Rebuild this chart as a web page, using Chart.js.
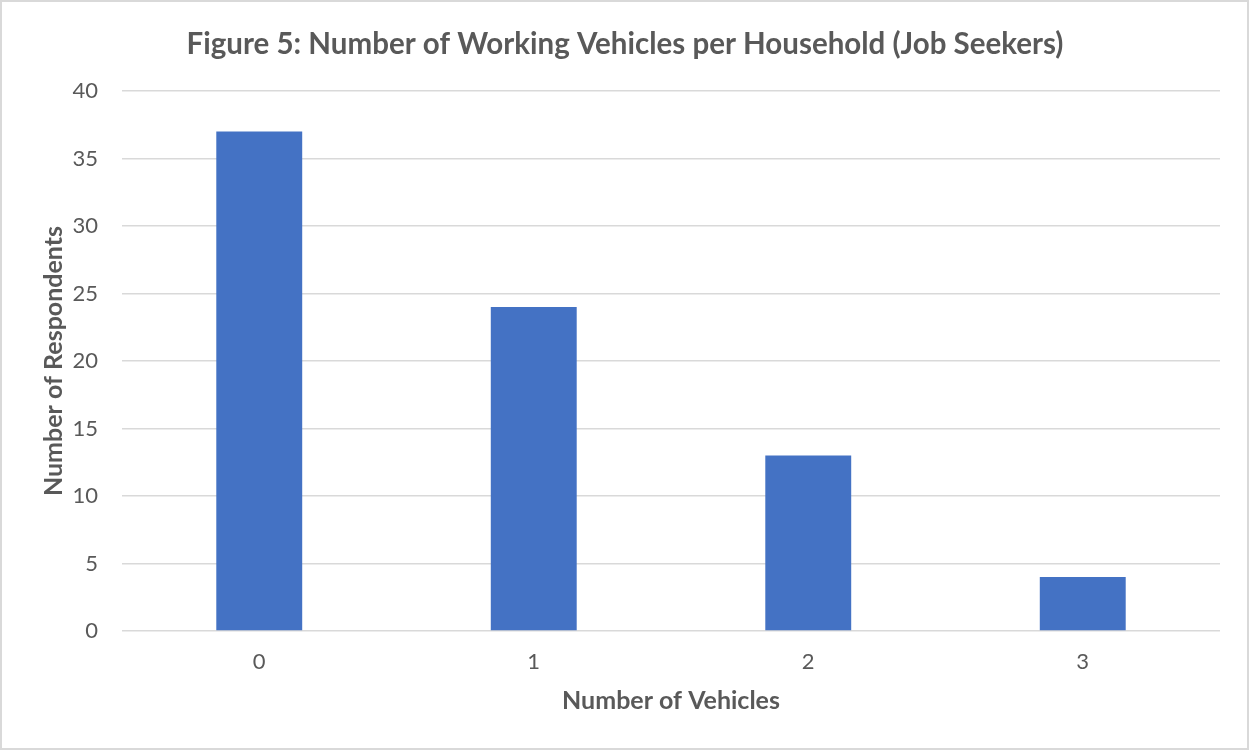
<!DOCTYPE html>
<html>
<head>
<meta charset="utf-8">
<script src="https://cdn.jsdelivr.net/npm/chart.js@4/dist/chart.umd.min.js"></script>
<style>
  html, body { margin: 0; padding: 0; background: #fff; }
  #wrap { position: relative; width: 1249px; height: 750px; }
  #frame { position: absolute; left: 0; top: 0; width: 1249px; height: 750px; box-sizing: border-box;
           border: 2px solid #d9d9d9; pointer-events: none; }
</style>
</head>
<body>
<div id="wrap">
  <canvas id="chart" width="1249" height="750"></canvas>
  <div id="frame"></div>
</div>
<script>
const CATEGORIES = ['0', '1', '2', '3'];
const RESPONDENTS = [37, 24, 13, 4];
const Y_TICKS = [0, 5, 10, 15, 20, 25, 30, 35, 40];

const TEXT_COLOR = '#595959';
const GRID_COLOR = '#d9d9d9';
const FONT = 'Lato, "Open Sans", sans-serif';

const ctx = document.getElementById('chart').getContext('2d');
new Chart(ctx, {
  type: 'bar',
  data: {
    labels: CATEGORIES,
    datasets: [{
      label: 'Number of Respondents',
      data: RESPONDENTS,
      backgroundColor: '#4472C4',
      borderWidth: 0,
      categoryPercentage: 1,
      barPercentage: 0.313
    }]
  },
  options: {
    responsive: false,
    animation: false,
    layout: { padding: { top: 0, left: 30, right: 29, bottom: 0 } },
    plugins: {
      legend: { display: false },
      tooltip: { enabled: false },
      title: {
        display: true,
        text: 'Figure 5: Number of Working Vehicles per Household (Job Seekers)',
        color: TEXT_COLOR,
        font: { family: FONT, size: 29.5, weight: 'bold' },
        padding: { top: 26.3, bottom: 29.3 }
      }
    },
    scales: {
      x: {
        grid: { display: false, drawTicks: false },
        border: { display: false },
        ticks: { color: TEXT_COLOR, font: { family: FONT, size: 22 }, padding: 18 },
        title: {
          display: true,
          text: 'Number of Vehicles',
          color: TEXT_COLOR,
          font: { family: FONT, size: 25, weight: 'bold' },
          padding: { top: 0, bottom: 34 }
        },
        afterFit: s => { s.height = 119; }
      },
      y: {
        min: 0,
        max: 40,
        afterBuildTicks: s => { s.ticks = Y_TICKS.map(v => ({ value: v })); },
        grid: { color: GRID_COLOR, lineWidth: 1.5, drawTicks: false },
        border: { display: false },
        ticks: { color: TEXT_COLOR, font: { family: FONT, size: 22 }, padding: 24 },
        title: {
          display: true,
          text: 'Number of Respondents',
          color: TEXT_COLOR,
          font: { family: FONT, size: 25, weight: 'bold' },
          padding: { top: 9, bottom: 0 }
        },
        afterFit: s => { s.width = 92; }
      }
    }
  }
});
</script>
</body>
</html>
